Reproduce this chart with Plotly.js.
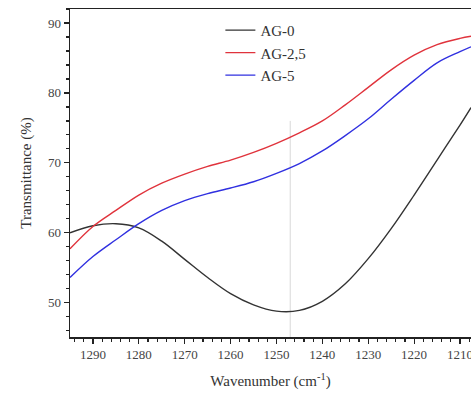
<!DOCTYPE html>
<html>
<head>
<meta charset="utf-8">
<script src="https://cdn.plot.ly/plotly-3.0.1.min.js"></script>
<style>html,body{margin:0;padding:0;background:#fff;}#chart{width:471px;height:396px;}</style>
</head>
<body>
<div id="chart"></div>
<script>
const wavenumber = [1295, 1290, 1285, 1280, 1275, 1270, 1265, 1260, 1255, 1250, 1245, 1240, 1235, 1230, 1225, 1220, 1215, 1210, 1207.6];
const ag0   = [60.0, 61.0, 61.3, 60.7, 58.8, 56.2, 53.6, 51.3, 49.7, 48.8, 48.9, 50.2, 52.7, 56.3, 60.6, 65.4, 70.4, 75.4, 77.9];
const ag25  = [57.7, 60.9, 63.2, 65.4, 67.1, 68.4, 69.5, 70.4, 71.5, 72.8, 74.3, 76.0, 78.3, 80.8, 83.3, 85.4, 86.9, 87.8, 88.1];
const ag5   = [53.6, 56.6, 59.0, 61.3, 63.2, 64.6, 65.6, 66.4, 67.3, 68.5, 69.9, 71.7, 73.9, 76.3, 79.1, 81.8, 84.3, 85.9, 86.6];
const seriesNames = ["AG-0", "AG-2,5", "AG-5"];
const seriesColors = ["#333333", "#e0333c", "#3030e0"];
const markerLine = 1247;

const ys = [ag0, ag25, ag5];
const traces = ys.map((y, i) => ({
  x: wavenumber, y: y, type: "scatter", mode: "lines", name: seriesNames[i],
  line: {color: seriesColors[i], width: 1.4, shape: "spline", smoothing: 1}
}));

const font = "Liberation Serif, Times New Roman, serif";
const layout = {
  width: 471, height: 396,
  margin: {l: 70, r: 0, t: 9, b: 59},
  paper_bgcolor: "#fff", plot_bgcolor: "#fff",
  font: {family: font, color: "#333", size: 13},
  showlegend: true,
  legend: {x: 0.375, y: 0.985, xanchor: "left", yanchor: "top", bgcolor: "rgba(0,0,0,0)",
           font: {family: font, size: 15, color: "#333"}, tracegroupgap: 0, itemwidth: 30},
  xaxis: {
    range: [1295, 1207.6], showgrid: false, zeroline: false,
    showline: true, linecolor: "#222", linewidth: 1.5, mirror: true,
    ticks: "outside", ticklen: 5, tickcolor: "#222", tickwidth: 1.2,
    tickvals: [1290, 1280, 1270, 1260, 1250, 1240, 1230, 1220, 1210],
    ticklabeloverflow: "allow",
    minor: {dtick: 2, ticks: "outside", ticklen: 3, tickcolor: "#222"},
    tickfont: {family: font, size: 13, color: "#444"},
    title: {text: "Wavenumber (cm<sup>-1</sup>)", font: {family: font, size: 15, color: "#333"}, standoff: 14}
  },
  yaxis: {
    range: [45.1, 92], showgrid: false, zeroline: false,
    showline: true, linecolor: "#222", linewidth: 1.5,
    ticks: "outside", ticklen: 5, tickcolor: "#222", tickwidth: 1.2,
    tickvals: [50, 60, 70, 80, 90],
    minor: {dtick: 2, ticks: "outside", ticklen: 3, tickcolor: "#222"},
    tickfont: {family: font, size: 13, color: "#444"},
    title: {text: "Transmittance (%)", font: {family: font, size: 15, color: "#333"}, standoff: 12}
  },
  shapes: [{type: "line", xref: "x", yref: "y", x0: markerLine, x1: markerLine, y0: 45.1, y1: 76,
            line: {color: "#d8d8d8", width: 1}, layer: "below"}]
};
Plotly.newPlot("chart", traces, layout, {displayModeBar: false, staticPlot: true});
</script>
</body>
</html>
